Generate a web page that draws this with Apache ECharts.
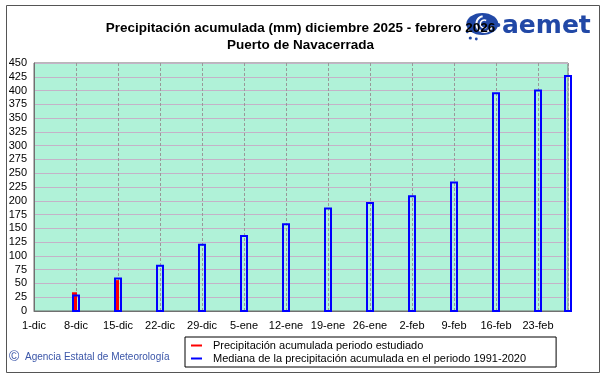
<!DOCTYPE html>
<html><head><meta charset="utf-8">
<script src="https://cdn.jsdelivr.net/npm/echarts@6/dist/echarts.min.js"></script>
<style>html,body{margin:0;padding:0;background:#fff}#c{width:601px;height:374px}</style>
</head><body><div id="c"></div>
<script>
// Days counted from 1 December 2025
const tickLabels = ['1-dic','8-dic','15-dic','22-dic','29-dic','5-ene','12-ene','19-ene','26-ene','2-feb','9-feb','16-feb','23-feb'];
const yTicks = [0,25,50,75,100,125,150,175,200,225,250,275,300,325,350,375,400,425,450];
const medianDays = [7,14,21,28,35,42,49,56,63,70,77,84,89];
const medianValues = [30,61,84,122,138,159,188,198,210,235,397,402,428];
const observedDays = [7,14];
const observedValues = [34,56];
const titleText = 'Precipitación acumulada (mm) diciembre 2025 - febrero 2026';
const subtitleText = 'Puerto de Navacerrada';
const nameObserved = 'Precipitación acumulada periodo estudiado';
const nameMedian = 'Mediana de la precipitación acumulada en el periodo 1991-2020';

const FONT = '"Liberation Sans", Arial, sans-serif';
const chart = echarts.init(document.getElementById('c'), null, {renderer:'canvas'});

function medianBar(params, api){
  const top = api.coord([api.value(0), api.value(1)]);
  const base = api.coord([api.value(0), 0]);
  return {type:'rect', shape:{x:top[0]-3, y:top[1]+1, width:6, height:base[1]-top[1]-1},
    style:{fill:'none', stroke:'#0000ff', lineWidth:2}};
}
function observedBar(params, api){
  const top = api.coord([api.value(0), api.value(1)]);
  const base = api.coord([api.value(0), 0]);
  return {type:'rect', shape:{x:top[0]-4, y:top[1], width:5, height:base[1]-top[1]},
    style:{fill:'#ff0000'}};
}

chart.setOption({
  animation:false,
  backgroundColor:'#ffffff',
  color:['#ff0000','#0000ff'],
  textStyle:{fontFamily:FONT},
  title:{
    text:titleText, subtext:subtitleText, left:'center', top:21, itemGap:3,
    textStyle:{fontFamily:FONT,fontSize:13.5,fontWeight:'bold',color:'#000'},
    subtextStyle:{fontFamily:FONT,fontSize:13.5,fontWeight:'bold',color:'#000'},
    padding:0
  },
  grid:{left:34,right:33,top:63,bottom:63,show:true,backgroundColor:'#b0f2d8',borderColor:'#707070',borderWidth:1,containLabel:false},
  xAxis:{
    type:'value', min:0, max:89, interval:7,
    axisLine:{show:true,lineStyle:{color:'#707070',width:1}},
    axisTick:{show:false},
    axisLabel:{show:true,margin:9,fontSize:11,color:'#000',fontFamily:FONT,showMaxLabel:false,
      formatter:function(v){ return (v%7===0 && tickLabels[v/7]!==undefined) ? tickLabels[v/7] : ''; }},
    splitLine:{show:true,lineStyle:{color:'#999999',type:[3,2],width:1}}
  },
  yAxis:{
    type:'value', min:yTicks[0], max:yTicks[yTicks.length-1], interval:25,
    axisLine:{show:true,lineStyle:{color:'#707070'}},
    axisTick:{show:false},
    axisLabel:{margin:7,fontSize:11,color:'#000',fontFamily:FONT},
    splitLine:{show:true,lineStyle:{color:'#c4b2c8',width:1}}
  },
  legend:{
    orient:'vertical', left:185, top:337,
    backgroundColor:'#ffffff', borderColor:'#000', borderWidth:1,
    padding:[3,30,3,6], itemGap:2, itemWidth:11, itemHeight:2, icon:'rect',
    textStyle:{fontFamily:FONT,fontSize:11,color:'#000',padding:[0,0,0,6]},
    selectedMode:false,
    data:[
      {name:nameObserved,itemStyle:{color:'#ff0000',borderColor:'#ff0000',borderWidth:0}},
      {name:nameMedian,itemStyle:{color:'#0000ff',borderColor:'#0000ff',borderWidth:0}}
    ]
  },
  series:[
    {
      name:nameObserved, type:'custom', renderItem:observedBar, z:2,
      itemStyle:{color:'#ff0000'},
      encode:{x:0,y:1},
      data:observedDays.map((d,i)=>[d,observedValues[i]])
    },
    {
      name:nameMedian, type:'custom', renderItem:medianBar, z:3,
      itemStyle:{color:'#0000ff'},
      encode:{x:0,y:1},
      data:medianDays.map((d,i)=>[d,medianValues[i]])
    }
  ],
  graphic:[
    {type:'rect',left:4,top:3,shape:{width:593,height:367},style:{fill:'none',stroke:'#555',lineWidth:1},z:100},
    {type:'text',left:9,top:350,style:{text:'©',font:'14px '+FONT,fill:'#3a55a8'},z:100},
    {type:'text',left:25,top:352,style:{text:'Agencia Estatal de Meteorología',font:'10px '+FONT,fill:'#3a55a8'},z:100},
    {type:'group',left:466,top:13,z:100,children:[
      {type:'ellipse',shape:{cx:18,cy:13,rx:16,ry:11},style:{fill:'#2148a6'}},
      {type:'arc',shape:{cx:20,cy:13,r:8,startAngle:0.3,endAngle:4.5},style:{stroke:'#fff',lineWidth:2,fill:'none'}},
      {type:'arc',shape:{cx:20,cy:13,r:4,startAngle:1.0,endAngle:5.2},style:{stroke:'#fff',lineWidth:1.5,fill:'none'}},
      {type:'circle',shape:{cx:6,cy:27,r:1.6},style:{fill:'#2148a6'}},
      {type:'circle',shape:{cx:12,cy:28,r:1.4},style:{fill:'#2148a6'}},
      {type:'circle',shape:{cx:3,cy:21,r:1.3},style:{fill:'#2148a6'}},
      {type:'circle',shape:{cx:34,cy:14,r:2},style:{fill:'#2148a6'}}
    ]},
    {type:'text',left:502,top:14,style:{text:'aemet',font:'bold 25px "DejaVu Sans", sans-serif',fill:'#2148a6'},z:100}
  ]
});
</script></body></html>
